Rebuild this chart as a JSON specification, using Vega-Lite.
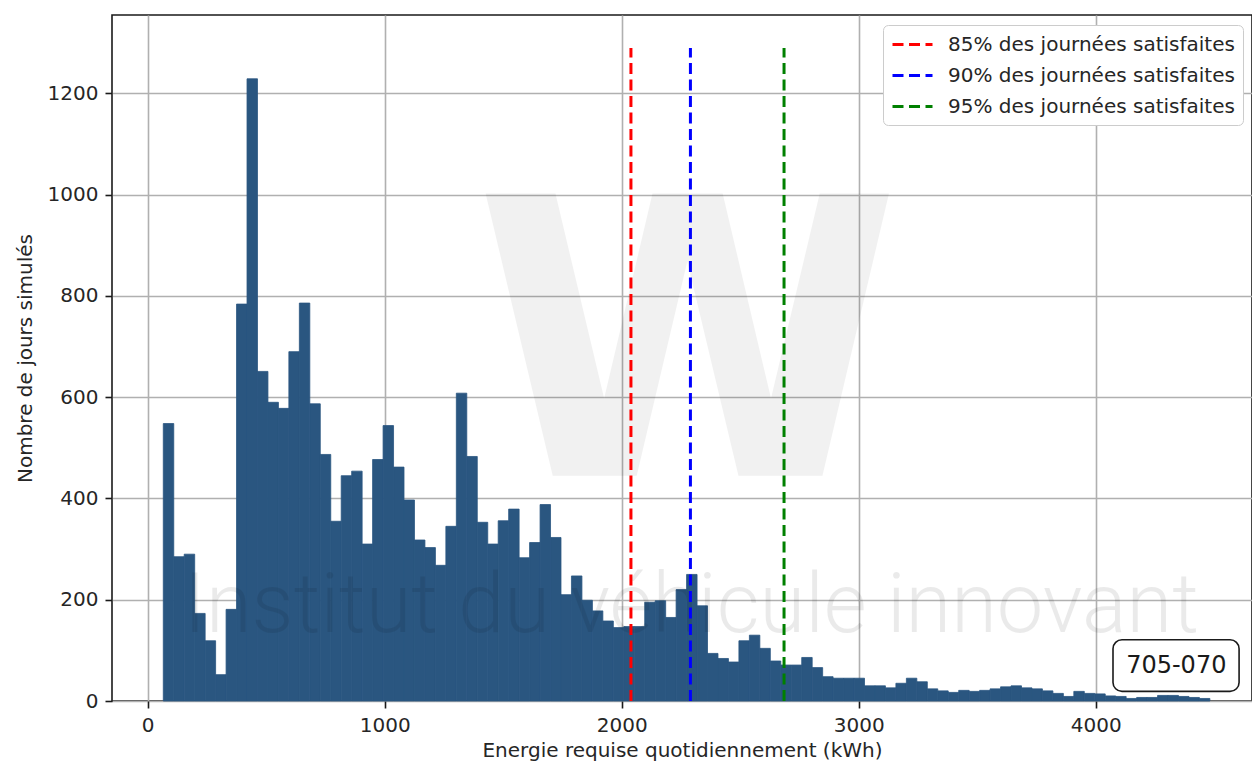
{
  "$schema": "https://vega.github.io/schema/vega-lite/v6.json",
  "width": 1140,
  "height": 686,
  "autosize": {"type": "none"},
  "padding": {"left": 112, "top": 15, "right": 0, "bottom": 60},
  "background": "white",
  "config": {
    "font": "DejaVu Sans",
    "view": {"stroke": "#1a1a1a", "strokeWidth": 1.6},
    "axis": {
      "domain": false, "grid": true, "gridColor": "#b0b0b0", "gridWidth": 1.6,
      "tickColor": "#1a1a1a", "tickWidth": 1.6, "tickSize": 7,
      "labelFont": "DejaVu Sans", "labelFontSize": 20, "labelColor": "#262626", "labelPadding": 7,
      "titleFont": "DejaVu Sans", "titleFontSize": 20, "titleFontWeight": "normal", "titleColor": "#262626"
    },
    "legend": {
      "orient": "none", "legendX": 771, "legendY": 10,
      "symbolType": "M-2,0H2", "symbolSize": 400, "symbolStrokeWidth": 3, "symbolDash": [11, 5.5], "symbolOffset": 10,
      "labelFont": "DejaVu Sans", "labelFontSize": 20, "labelColor": "#262626", "labelOffset": 24, "labelLimit": 400,
      "padding": 8, "rowPadding": 9, "fillColor": "white", "strokeColor": "#cccccc", "cornerRadius": 5
    }
  },
  "layer": [
    {
      "data": {"values": [
        {"start": 65.8, "end": 110.0, "count": 548},
        {"start": 110.0, "end": 154.1, "count": 285},
        {"start": 154.1, "end": 198.3, "count": 290},
        {"start": 198.3, "end": 242.4, "count": 173},
        {"start": 242.4, "end": 286.6, "count": 119},
        {"start": 286.6, "end": 330.8, "count": 52},
        {"start": 330.8, "end": 374.9, "count": 181},
        {"start": 374.9, "end": 419.1, "count": 784},
        {"start": 419.1, "end": 463.2, "count": 1229},
        {"start": 463.2, "end": 507.4, "count": 651},
        {"start": 507.4, "end": 551.6, "count": 590},
        {"start": 551.6, "end": 595.7, "count": 578},
        {"start": 595.7, "end": 639.9, "count": 690},
        {"start": 639.9, "end": 684.0, "count": 786},
        {"start": 684.0, "end": 728.2, "count": 587},
        {"start": 728.2, "end": 772.4, "count": 487},
        {"start": 772.4, "end": 816.5, "count": 355},
        {"start": 816.5, "end": 860.7, "count": 445},
        {"start": 860.7, "end": 904.8, "count": 454},
        {"start": 904.8, "end": 949.0, "count": 310},
        {"start": 949.0, "end": 993.2, "count": 477},
        {"start": 993.2, "end": 1037.3, "count": 544},
        {"start": 1037.3, "end": 1081.5, "count": 462},
        {"start": 1081.5, "end": 1125.6, "count": 397},
        {"start": 1125.6, "end": 1169.8, "count": 318},
        {"start": 1169.8, "end": 1214.0, "count": 303},
        {"start": 1214.0, "end": 1258.1, "count": 268},
        {"start": 1258.1, "end": 1302.3, "count": 345},
        {"start": 1302.3, "end": 1346.4, "count": 608},
        {"start": 1346.4, "end": 1390.6, "count": 483},
        {"start": 1390.6, "end": 1434.8, "count": 353},
        {"start": 1434.8, "end": 1478.9, "count": 310},
        {"start": 1478.9, "end": 1523.1, "count": 356},
        {"start": 1523.1, "end": 1567.2, "count": 379},
        {"start": 1567.2, "end": 1611.4, "count": 283},
        {"start": 1611.4, "end": 1655.6, "count": 313},
        {"start": 1655.6, "end": 1699.7, "count": 388},
        {"start": 1699.7, "end": 1743.9, "count": 323},
        {"start": 1743.9, "end": 1788.0, "count": 210},
        {"start": 1788.0, "end": 1832.2, "count": 247},
        {"start": 1832.2, "end": 1876.4, "count": 199},
        {"start": 1876.4, "end": 1920.5, "count": 178},
        {"start": 1920.5, "end": 1964.7, "count": 158},
        {"start": 1964.7, "end": 2008.8, "count": 145},
        {"start": 2008.8, "end": 2053.0, "count": 147},
        {"start": 2053.0, "end": 2097.2, "count": 147},
        {"start": 2097.2, "end": 2141.3, "count": 195},
        {"start": 2141.3, "end": 2185.5, "count": 198},
        {"start": 2185.5, "end": 2229.6, "count": 165},
        {"start": 2229.6, "end": 2273.8, "count": 220},
        {"start": 2273.8, "end": 2318.0, "count": 250},
        {"start": 2318.0, "end": 2362.1, "count": 188},
        {"start": 2362.1, "end": 2406.3, "count": 94},
        {"start": 2406.3, "end": 2450.4, "count": 84},
        {"start": 2450.4, "end": 2494.6, "count": 77},
        {"start": 2494.6, "end": 2538.8, "count": 119},
        {"start": 2538.8, "end": 2582.9, "count": 130},
        {"start": 2582.9, "end": 2627.1, "count": 104},
        {"start": 2627.1, "end": 2671.2, "count": 79},
        {"start": 2671.2, "end": 2715.4, "count": 71},
        {"start": 2715.4, "end": 2759.6, "count": 71},
        {"start": 2759.6, "end": 2803.7, "count": 86},
        {"start": 2803.7, "end": 2847.9, "count": 66},
        {"start": 2847.9, "end": 2892.0, "count": 48},
        {"start": 2892.0, "end": 2936.2, "count": 45},
        {"start": 2936.2, "end": 2980.4, "count": 45},
        {"start": 2980.4, "end": 3024.5, "count": 45},
        {"start": 3024.5, "end": 3068.7, "count": 30},
        {"start": 3068.7, "end": 3112.8, "count": 30},
        {"start": 3112.8, "end": 3157.0, "count": 26},
        {"start": 3157.0, "end": 3201.2, "count": 35},
        {"start": 3201.2, "end": 3245.3, "count": 45},
        {"start": 3245.3, "end": 3289.5, "count": 38},
        {"start": 3289.5, "end": 3333.6, "count": 24},
        {"start": 3333.6, "end": 3377.8, "count": 20},
        {"start": 3377.8, "end": 3422.0, "count": 17},
        {"start": 3422.0, "end": 3466.1, "count": 21},
        {"start": 3466.1, "end": 3510.3, "count": 19},
        {"start": 3510.3, "end": 3554.4, "count": 21},
        {"start": 3554.4, "end": 3598.6, "count": 24},
        {"start": 3598.6, "end": 3642.8, "count": 28},
        {"start": 3642.8, "end": 3686.9, "count": 30},
        {"start": 3686.9, "end": 3731.1, "count": 26},
        {"start": 3731.1, "end": 3775.2, "count": 24},
        {"start": 3775.2, "end": 3819.4, "count": 20},
        {"start": 3819.4, "end": 3863.6, "count": 15},
        {"start": 3863.6, "end": 3907.7, "count": 9},
        {"start": 3907.7, "end": 3951.9, "count": 19},
        {"start": 3951.9, "end": 3996.0, "count": 15},
        {"start": 3996.0, "end": 4040.2, "count": 14},
        {"start": 4040.2, "end": 4084.4, "count": 10},
        {"start": 4084.4, "end": 4128.5, "count": 9},
        {"start": 4128.5, "end": 4172.7, "count": 5},
        {"start": 4172.7, "end": 4216.8, "count": 7},
        {"start": 4216.8, "end": 4261.0, "count": 7},
        {"start": 4261.0, "end": 4305.2, "count": 11},
        {"start": 4305.2, "end": 4349.3, "count": 11},
        {"start": 4349.3, "end": 4393.5, "count": 9},
        {"start": 4393.5, "end": 4437.6, "count": 7},
        {"start": 4437.6, "end": 4481.8, "count": 5}
      ]},
      "mark": {"type": "bar", "color": "#2a5680", "stroke": "#2a5680", "strokeWidth": 0.8, "orient": "vertical"},
      "encoding": {
        "x": {"field": "start", "type": "quantitative",
          "scale": {"domain": [-150.6, 4659.5], "nice": false, "zero": false, "padding": 0},
          "axis": {"values": [0, 1000, 2000, 3000, 4000], "format": "d", "title": "Energie requise quotidiennement (kWh)", "titlePadding": 5}},
        "x2": {"field": "end"},
        "y": {"field": "count", "type": "quantitative",
          "scale": {"domain": [0, 1355], "nice": false, "padding": 0},
          "axis": {"values": [0, 200, 400, 600, 800, 1000, 1200], "format": "d", "title": "Nombre de jours simulés", "titlePadding": 12}},
        "y2": {"datum": 0}
      }
    },
    {
      "data": {"values": [{}]},
      "mark": {"type": "text", "text": "W", "font": "DejaVu Sans", "fontWeight": "bold", "fontSize": 387, "fill": "#000000", "opacity": 0.05, "align": "center", "baseline": "alphabetic"},
      "encoding": {
        "x": {"datum": 2278, "type": "quantitative", "title": "Energie requise quotidiennement (kWh)"},
        "y": {"datum": 445, "type": "quantitative", "title": "Nombre de jours simulés"}
      }
    },
    {
      "data": {"values": [{}]},
      "mark": {"type": "text", "text": "Institut du véhicule innovant", "font": "Roboto", "fontWeight": 300, "fontSize": 83, "fill": "#000000", "opacity": 0.08, "align": "center", "baseline": "alphabetic"},
      "encoding": {
        "x": {"datum": 2294, "type": "quantitative", "title": "Energie requise quotidiennement (kWh)"},
        "y": {"datum": 136, "type": "quantitative", "title": "Nombre de jours simulés"}
      }
    },
    {
      "data": {"values": [
        {"seuil": "85% des journées satisfaites", "energie": 2039},
        {"seuil": "90% des journées satisfaites", "energie": 2290},
        {"seuil": "95% des journées satisfaites", "energie": 2685}
      ]},
      "mark": {"type": "rule", "strokeWidth": 3, "strokeDash": [11, 5.5]},
      "encoding": {
        "x": {"field": "energie", "type": "quantitative", "title": "Energie requise quotidiennement (kWh)"},
        "y": {"datum": 0, "type": "quantitative", "title": "Nombre de jours simulés"},
        "y2": {"datum": 1290},
        "color": {"field": "seuil", "type": "nominal",
          "scale": {"domain": ["85% des journées satisfaites", "90% des journées satisfaites", "95% des journées satisfaites"], "range": ["#ff0000", "#0000ff", "#008000"]},
          "legend": {"title": null}}
      }
    },
    {
      "data": {"values": [{}]},
      "mark": {"type": "rect", "fill": "white", "stroke": "#1a1a1a", "strokeWidth": 1.6, "cornerRadius": 9},
      "encoding": {
        "x": {"datum": 4073, "type": "quantitative", "title": "Energie requise quotidiennement (kWh)"},
        "x2": {"datum": 4605},
        "y": {"datum": 19, "type": "quantitative", "title": "Nombre de jours simulés"},
        "y2": {"datum": 121}
      }
    },
    {
      "data": {"values": [{}]},
      "mark": {"type": "text", "text": "705-070", "font": "DejaVu Sans", "fontSize": 24, "fill": "#1a1a1a", "align": "center", "baseline": "middle"},
      "encoding": {
        "x": {"datum": 4340, "type": "quantitative", "title": "Energie requise quotidiennement (kWh)"},
        "y": {"datum": 70, "type": "quantitative", "title": "Nombre de jours simulés"}
      }
    }
  ]
}
